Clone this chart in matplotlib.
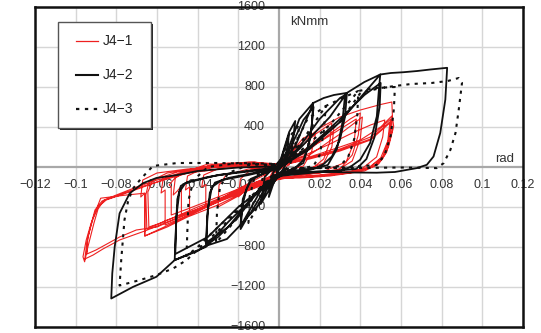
import matplotlib
matplotlib.use("Agg")
import matplotlib.pyplot as plt
from matplotlib.patches import Rectangle
from matplotlib.lines import Line2D

plt.rcParams['font.family'] = ['Liberation Sans', 'DejaVu Sans']

# ---- hysteresis records (rotation [rad], moment [kNmm]) ----
# J4-1
j41_rot = [0, 0.004, 0.002, -0.004, -0.002,
           0.008, 0.005, 0, -0.008, -0.006, 0,
           0.012, 0.018, 0.016, 0.012, 0.005, -0.008, -0.018, -0.020, -0.019, -0.014, -0.006, 0,
           0.008, 0.018, 0.026, 0.025, 0.022, 0.016, 0.005, -0.010, -0.020, -0.030, -0.0295, -0.026, -0.015, 0,
           0.010, 0.020, 0.027, 0.026, 0.022, 0.012, 0,
           -0.012, -0.025, -0.036, -0.036, -0.038, -0.037, -0.028, -0.012, 0,
           0.012, 0.025, 0.035, 0.040, 0.039, 0.036, 0.030, 0.015, 0, -0.015, -0.030, -0.040, -0.048, -0.048, -0.050, -0.052, -0.051, -0.045, -0.030, -0.010, 0,
           0.015, 0.030, 0.041, 0.040, 0.036, 0.028, 0.010,
           -0.015, -0.030, -0.044, -0.044, -0.046, -0.045, -0.035, -0.015, 0,
           0.020, 0.038, 0.037, 0.033, 0.020, 0,
           -0.010, -0.030, -0.045, -0.053, -0.053, -0.054, -0.050, -0.040, -0.020, 0,
           0.010, 0.020, 0.030, 0.040, 0.050, 0.0555, 0.0558, 0.0564, 0.0539, 0.0506, 0.0465, 0.040, 0.025, 0.010, 0,
           -0.015, -0.030, -0.045, -0.055, -0.066, -0.066, -0.068, -0.067, -0.060, -0.045, -0.020, 0,
           0.015, 0.030, 0.040, 0.050, 0.0555, 0.0555, 0.053, 0.049, 0.042, 0.025, 0.010, 0,
           -0.020, -0.040, -0.056, -0.056, -0.058, -0.057, -0.045, -0.025, 0,
           0.012, 0.025, 0.035, 0.045, 0.052, 0.051, 0.048, 0.040, 0.020, 0,
           -0.020, -0.040, -0.055, -0.065, -0.0655, -0.064, -0.055, -0.030, -0.012, 0,
           0.015, 0.030, 0.045, 0.055, 0.0548, 0.052, 0.047, 0.035, 0.015, 0,
           -0.020, -0.040, -0.058, -0.064, -0.0645, -0.062, -0.050, -0.030, 0,
           0.015, 0.030, 0.045, 0.055, 0.054, 0.051, 0.045, 0.030, 0.010, 0,
           -0.030, -0.066, -0.066, -0.075, -0.0877, -0.089, -0.0924, -0.0948, -0.0964, -0.0956,
           -0.094, -0.091, -0.089, -0.086, -0.080, -0.070, -0.060, -0.045, -0.020, 0,
           0.015, 0.030, 0.045, 0.0545, 0.0535, 0.050, 0.044, 0.030, 0.010, 0,
           -0.020, -0.045, -0.066, -0.0784, -0.0866, -0.0914, -0.0955,
           -0.0945, -0.0925, -0.0905, -0.087, -0.080, -0.068, -0.050, -0.030, 0,
           -0.030, -0.060, -0.0702, -0.0784, -0.090, -0.0945,
           -0.094, -0.0915, -0.089, -0.085, -0.075, -0.060, -0.035, 0]
j41_mom = [0, 120, 0, -80, 0,
           220, 20, -20, -150, -20, 10,
           290, 340, 150, 10, -30, -140, -260, -300, -120, -30, 0, 10,
           150, 330, 440, 250, 80, -20, -60, -150, -290, -400, -180, -80, -20, 20,
           130, 290, 400, 200, 40, -40, -60,
           -160, -300, -400, -175, -200, -80, 0, 40, 30,
           130, 330, 480, 540, 320, 120, -20, -70, -80, -200, -350, -430, -490, -190, -240, -280, -110, -40, 0, 20, 20,
           120, 330, 500, 280, 60, -40, -80,
           -180, -330, -470, -200, -230, -90, 10, 50, 30,
           250, 480, 250, 50, -60, -70,
           -140, -300, -420, -480, -200, -180, -80, -20, 30, 20,
           220, 390, 500, 570, 625, 650, 500, 406, 205, 72, 5, -40, -80, -100, -100,
           -230, -380, -500, -600, -690, -262, -300, -130, -60, -20, 10, 20,
           100, 200, 270, 400, 510, 350, 150, 30, -40, -90, -110, -110,
           -230, -440, -580, -230, -260, -120, -30, 40, 30,
           110, 230, 330, 420, 470, 300, 100, -30, -80, -100,
           -260, -420, -530, -620, -280, -150, -60, 20, 50, 10,
           90, 180, 300, 480, 300, 120, 10, -60, -100, -110,
           -240, -400, -560, -600, -250, -130, -50, 30, 20,
           90, 170, 280, 460, 280, 100, 0, -70, -100, -120,
           -350, -690, -262, -280, -312, -380, -563, -730, -898, -948,
           -800, -560, -420, -330, -280, -200, -130, -60, 0, 10,
           80, 160, 270, 440, 260, 90, -10, -70, -100, -120,
           -260, -470, -640, -730, -820, -880, -920,
           -760, -580, -430, -340, -290, -200, -90, 20, 0,
           -330, -600, -630, -700, -830, -870,
           -700, -520, -400, -330, -260, -150, 30, 0]

# J4-2
j42_rot = [0, 0.003, 0.005, 0.003, 0, -0.003, -0.005, -0.003, 0,
           0.005, 0.008, 0.006, 0.002, -0.004, -0.009, -0.007, -0.002,
           0.004, 0.010, 0.0168, 0.0161, 0.0144, 0.012, 0.008, 0.004, -0.004, -0.010, -0.0155, -0.0189,
           -0.018, -0.016, -0.0135, -0.008, -0.002,
           0.004, 0.012, 0.0170, 0.0155, 0.012, 0.006, -0.005, -0.014, -0.0190, -0.0178, -0.014, -0.006, 0,
           0.008, 0.0169, 0.022, 0.027, 0.0334, 0.0325, 0.030, 0.026, 0.022, 0.018, 0.010, 0,
           -0.008, -0.018, -0.0256, -0.0357, -0.0352, -0.034, -0.0315, -0.025, -0.015, -0.005, 0,
           0.010, 0.020, 0.030, 0.0325, 0.031, 0.0285, 0.024, 0.015, 0,
           -0.010, -0.025, -0.036, -0.0350, -0.033, -0.028, -0.015, 0,
           0.010, 0.025, 0.0334, 0.042, 0.0498, 0.0490, 0.0481, 0.0448, 0.0399, 0.035, 0.030, 0.015, 0,
           -0.010, -0.025, -0.036, -0.0424, -0.0513, -0.0508, -0.050, -0.0483, -0.045, -0.035, -0.020, 0,
           0.015, 0.030, 0.042, 0.050, 0.0495, 0.047, 0.043, 0.038, 0.020, 0,
           -0.020, -0.035, -0.051, -0.0505, -0.049, -0.046, -0.030, 0,
           0.015, 0.030, 0.042, 0.0498, 0.055, 0.0613, 0.068, 0.0744, 0.0827,
           0.0818, 0.0793, 0.076, 0.0727, 0.0678, 0.057, 0.048, 0.035, 0.020, 0,
           -0.010, -0.020, -0.030, -0.040, -0.0513, -0.0603, -0.0718, -0.0825,
           -0.082, -0.0808, -0.0784, -0.0734, -0.0669, -0.0603, -0.050, -0.040, -0.020, -0.005, 0]
j42_mom = [0, 200, 330, 60, -20, -180, -300, -60, 20,
           350, 460, 120, -20, -200, -370, -100, 10,
           150, 480, 641, 406, 205, 72, -10, -40, -150, -380, -500, -621,
           -390, -220, -130, -70, -20,
           120, 470, 600, 300, 40, -30, -160, -460, -590, -320, -120, -50, 0,
           210, 641, 690, 720, 741, 506, 273, 105, 30, -10, -30, -60,
           -200, -560, -720, -787, -488, -256, -156, -110, -70, -30, 0,
           200, 480, 690, 720, 420, 180, 20, -30, -60,
           -230, -600, -760, -420, -200, -130, -80, -10,
           180, 500, 741, 850, 925, 740, 506, 240, 72, 0, -40, -50, -80,
           -250, -550, -800, -853, -931, -654, -322, -189, -150, -100, -50, 0,
           200, 480, 720, 840, 600, 300, 80, -20, -50, -90,
           -400, -700, -870, -500, -250, -160, -80, -10,
           180, 450, 741, 925, 940, 948, 960, 975, 992,
           674, 340, 105, 22, -11, -50, -57, -55, -45, -60,
           -230, -500, -700, -840, -931, -1098, -1199, -1315,
           -1064, -797, -463, -262, -162, -110, -80, -40, -5, 5, 0]

# J4-3
j43_rot = [0, 0.003, 0.005, 0.003, 0, -0.003, -0.005, -0.003, 0,
           0.005, 0.010, 0.008, 0.004, -0.004, -0.010, -0.008, -0.002,
           0.006, 0.014, 0.023, 0.022, 0.020, 0.017, 0.010, 0, -0.008, -0.015, -0.0145, -0.012, -0.006, 0,
           0.008, 0.016, 0.023, 0.033, 0.039, 0.0385, 0.037, 0.034, 0.030, 0.020, 0,
           -0.010, -0.020, -0.031, -0.0305, -0.029, -0.025, -0.015, 0,
           0.010, 0.025, 0.039, 0.047, 0.057, 0.0565, 0.055, 0.052, 0.048, 0.030, 0,
           -0.015, -0.031, -0.040, -0.0455, -0.045, -0.0445, -0.042, -0.035, -0.020, 0,
           0.015, 0.030, 0.040, 0.050, 0.057, 0.065, 0.075, 0.083, 0.0884, 0.090,
           0.0884, 0.0868, 0.0843, 0.081, 0.0776, 0.060, 0.040, 0.020, 0,
           -0.015, -0.030, -0.0455, -0.052, -0.0603, -0.0685, -0.0784,
           -0.0776, -0.0768, -0.076, -0.0743, -0.072, -0.068, -0.062, -0.050, -0.030, -0.010, 0]
j43_mom = [0, 180, 280, 50, -20, -150, -250, -50, 20,
           300, 420, 120, -10, -180, -400, -100, 10,
           150, 480, 610, 350, 120, 10, -20, -40, -300, -560, -300, -100, 0, 30,
           160, 400, 610, 707, 760, 520, 280, 100, 10, -10, -20,
           -240, -500, -760, -450, -200, -60, 20, 30,
           150, 420, 760, 790, 800, 580, 320, 120, 20, -5, -20,
           -320, -620, -800, -890, -600, -330, -130, 0, 40, 30,
           200, 450, 740, 790, 810, 830, 840, 860, 890, 841,
           574, 340, 172, 39, -11, -5, -10, -10, -20,
           -330, -640, -931, -1014, -1081, -1131, -1185,
           -931, -730, -530, -350, -220, -120, 10, 40, 40, 30, 0]

x_ticks = [-0.12, -0.1, -0.08, -0.06, -0.04, -0.02, 0.02, 0.04, 0.06, 0.08, 0.1, 0.12]
x_tick_labels = ['\u22120.12', '\u22120.1', '\u22120.08', '\u22120.06', '\u22120.04', '\u22120.02',
                 '0.02', '0.04', '0.06', '0.08', '0.1', '0.12']
y_ticks = [1600, 1200, 800, 400, -400, -800, -1200, -1600]
y_tick_labels = ['1600', '1200', '800', '400', '\u2212400', '\u2212800', '\u22121200', '\u22121600']
series_names = ['J4\u22121', 'J4\u22122', 'J4\u22123']

fig = plt.figure(figsize=(5.41, 3.33), dpi=100)
ax = fig.add_axes([35 / 541, 6 / 333, 488 / 541, 320 / 333])
ax.set_xlim(-0.12, 0.12)
ax.set_ylim(-1600, 1600)
ax.set_xticks([])
ax.set_yticks([])

# grid
for gx in x_ticks:
    ax.axvline(gx, color='#d6d6d6', lw=1.0, zorder=0)
for gy in y_ticks:
    ax.axhline(gy, color='#d6d6d6', lw=1.0, zorder=0)
ax.axvline(0, color='#a8a8a8', lw=1.6, zorder=0.5)
ax.axhline(0, color='#a8a8a8', lw=1.6, zorder=0.5)

# tick labels placed on the central axes
for v, s in zip(x_ticks, x_tick_labels):
    ax.text(v, -178, s, ha='center', va='center', fontsize=9, color='#333333', zorder=1)
for v, s in zip(y_ticks, y_tick_labels):
    ax.text(-0.0068, v, s, ha='right', va='center', fontsize=9, color='#333333', zorder=1)
ax.text(0.0055, 1450, 'kNmm', ha='left', va='center', fontsize=9.5, color='#333333')
ax.text(0.1065, 25, 'rad', ha='left', va='bottom', fontsize=9.5, color='#333333')

red = '#ee2020'
ax.plot(j41_rot, j41_mom, color=red, lw=0.8, zorder=2)
ax.plot(j42_rot, j42_mom, color='#111111', lw=1.3, zorder=3)
ax.plot(j43_rot, j43_mom, color='#111111', lw=1.5, ls=(0, (1.5, 2.5)), zorder=3)

for sp in ax.spines.values():
    sp.set_linewidth(1.8)
    sp.set_color('#111111')
    sp.set_zorder(5)

# legend box with shadow
bx0, by0, bw, bh = 0.047, 0.623, 0.190, 0.329
ax.add_patch(Rectangle((bx0 + 0.004, by0 - 0.006), bw, bh, transform=ax.transAxes,
                       facecolor='#222222', edgecolor='none', zorder=6))
ax.add_patch(Rectangle((bx0, by0), bw, bh, transform=ax.transAxes,
                       facecolor='white', edgecolor='#555555', lw=1.0, zorder=7))
styles = [dict(color=red, lw=0.9), dict(color='#111111', lw=1.5),
          dict(color='#111111', lw=1.6, ls=(0, (1.5, 2.5)))]
for name, st, yy in zip(series_names, styles, [0.894, 0.7875, 0.680]):
    ax.add_line(Line2D([0.084, 0.130], [yy, yy], transform=ax.transAxes, zorder=8, **st))
    ax.text(0.139, yy, name, transform=ax.transAxes, ha='left', va='center',
            fontsize=10, color='#222222', zorder=8)

fig.savefig('out.png', dpi=100)
